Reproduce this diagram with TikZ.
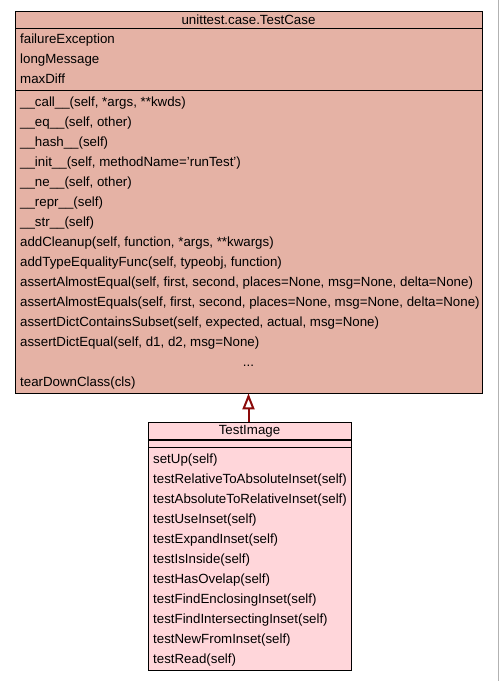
\documentclass[tikz,border=0pt]{standalone}
\usepackage{fontspec}
\setmainfont{Liberation Sans}
\usepackage{tikz}
\usetikzlibrary{arrows.meta}
\definecolor{casefill}{RGB}{229,178,165}
\definecolor{imgfill}{RGB}{255,214,218}
\definecolor{inherit}{RGB}{139,10,10}
\tikzstyle{classbox}=[rectangle, draw=black, line width=0.9pt, inner sep=0pt]
\tikzstyle{member}=[anchor=base west, inner sep=0pt, font=\fontsize{13.3}{15}\selectfont]
\tikzstyle{title}=[anchor=base, inner sep=0pt, font=\fontsize{13.3}{15}\selectfont]
\tikzstyle{sep}=[draw=black, line width=1.1pt]
\tikzstyle{arrow}=[draw=inherit, line width=2pt, -{Triangle[open, length=16pt, width=12pt, line width=2pt]}]

\begin{document}
\begin{tikzpicture}[x=1pt, y=-1pt]
		   \useasboundingbox (0,0) rectangle (499,681);
		   \fill[white] (0,0) rectangle (499,681);
		   \draw[gray!60, line width=1.2pt] (498.4,0) -- (498.4,681);
		   \begin{scope}
			   \node (case) at (248.5, 202) [classbox, fill=casefill, minimum width=467pt, minimum height=382pt] {};
			   \path [sep] (15, 28.7) -- (482, 28.7);
			   \path [sep] (15, 90.7) -- (482, 90.7);
			   \node (caseTitle) at (248.5, 24) [title] {unittest.case.TestCase};

			   \node (a1) at (20, 43.3)[member] {failureException};
			   \node (a2) at (20, 63.3)[member] {longMessage};
			   \node (a3) at (20, 83.3)[member] {maxDiff};

			   \node (m1) at (20, 106.5)[member] {\_\_call\_\_(self, *args, **kwds)};
			   \node (m2) at (20, 126.5)[member] {\_\_eq\_\_(self, other)};
			   \node (m3) at (20, 146.5)[member] {\_\_hash\_\_(self)};
			   \node (m4) at (20, 166.5)[member] {\_\_init\_\_(self, methodName='runTest')};
			   \node (m5) at (20, 186.5)[member] {\_\_ne\_\_(self, other)};
			   \node (m6) at (20, 206.5)[member] {\_\_repr\_\_(self)};
			   \node (m7) at (20, 226.5)[member] {\_\_str\_\_(self)};
			   \node (m8) at (20, 246.5)[member] {addCleanup(self, function, *args, **kwargs)};
			   \node (m9) at (20, 266.5)[member] {addTypeEqualityFunc(self, typeobj, function)};
			   \node (m10) at (20, 286.5)[member] {assertAlmostEqual(self, first, second, places=None, msg=None, delta=None)};
			   \node (m11) at (20, 306.5)[member] {assertAlmostEquals(self, first, second, places=None, msg=None, delta=None)};
			   \node (m12) at (20, 326.5)[member] {assertDictContainsSubset(self, expected, actual, msg=None)};
			   \node (m13) at (20, 346.5)[member] {assertDictEqual(self, d1, d2, msg=None)};
			   \node (m14) at (248.5, 366.5)[title] {...};
			   \node (m15) at (20, 386.5)[member] {tearDownClass(cls)};
		   \end{scope}
		   \begin{scope}
			   \node (img) at (249.5, 546) [classbox, fill=imgfill, minimum width=203pt, minimum height=248pt] {};
			   \path [sep] (148, 440) -- (351, 440);
			   \path [sep] (148, 447.7) -- (351, 447.7);
			   \node (imgTitle) at (249.5, 434.5) [title] {TestImage};

			   \node (t1) at (153, 463)[member] {setUp(self)};
			   \node (t2) at (153, 483)[member] {testRelativeToAbsoluteInset(self)};
			   \node (t3) at (153, 503)[member] {testAbsoluteToRelativeInset(self)};
			   \node (t4) at (153, 523)[member] {testUseInset(self)};
			   \node (t5) at (153, 543)[member] {testExpandInset(self)};
			   \node (t6) at (153, 563)[member] {testIsInside(self)};
			   \node (t7) at (153, 583)[member] {testHasOvelap(self)};
			   \node (t8) at (153, 603)[member] {testFindEnclosingInset(self)};
			   \node (t9) at (153, 623)[member] {testFindIntersectingInset(self)};
			   \node (t10) at (153, 643)[member] {testNewFromInset(self)};
			   \node (t11) at (153, 663)[member] {testRead(self)};
		   \end{scope}
		   \begin{scope}
			   \path [arrow] (img.north -| 248.5, 0) -- (case.south -| 248.5, 0);
		   \end{scope}
	   \end{tikzpicture}
\end{document}
